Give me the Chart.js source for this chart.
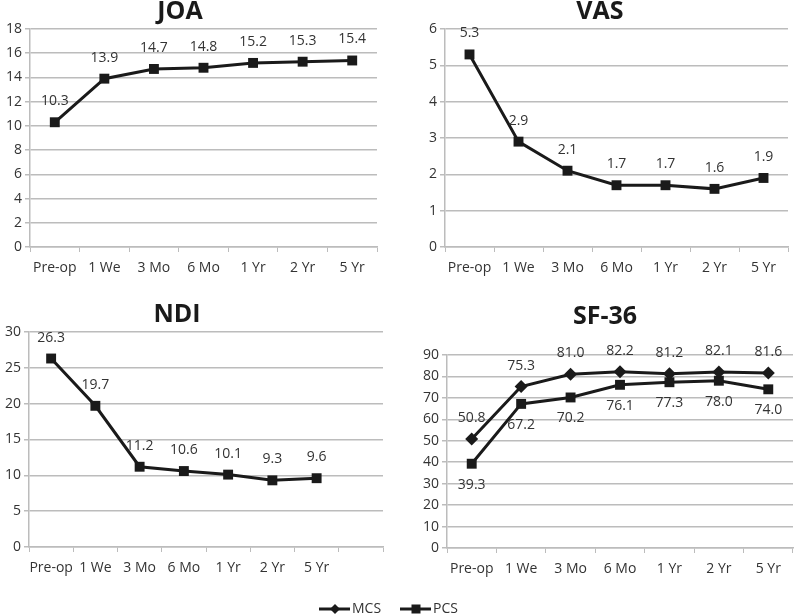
<!DOCTYPE html>
<html>
<head>
<meta charset="utf-8">
<script src="https://cdn.jsdelivr.net/npm/chart.js@4/dist/chart.umd.min.js"></script>
<style>
  html, body { margin: 0; padding: 0; background: #fff; }
  #wrap { position: relative; width: 800px; height: 616px; }
  canvas { position: absolute; left: 0; top: 0; }
</style>
</head>
<body>
<div id="wrap">
  <canvas id="c1" width="800" height="616"></canvas>
  <canvas id="c2" width="800" height="616"></canvas>
  <canvas id="c3" width="800" height="616"></canvas>
  <canvas id="c4" width="800" height="616"></canvas>
</div>
<script>
// ---- data ----
const timepoints = ['Pre-op', '1 We', '3 Mo', '6 Mo', '1 Yr', '2 Yr', '5 Yr'];
const ndiTimepoints = ['Pre-op', '1 We', '3 Mo', '6 Mo', '1 Yr', '2 Yr', '5 Yr', ''];
const joaValues = [10.3, 13.9, 14.7, 14.8, 15.2, 15.3, 15.4];
const vasValues = [5.3, 2.9, 2.1, 1.7, 1.7, 1.6, 1.9];
const ndiValues = [26.3, 19.7, 11.2, 10.6, 10.1, 9.3, 9.6, null];
const mcsValues = [50.8, 75.3, 81.0, 82.2, 81.2, 82.1, 81.6];
const pcsValues = [39.3, 67.2, 70.2, 76.1, 77.3, 78.0, 74.0];
const joaTicks = { min: 0, max: 18, step: 2 };
const vasTicks = { min: 0, max: 6, step: 1 };
const ndiTicks = { min: 0, max: 30, step: 5 };
const sfTicks = { min: 0, max: 90, step: 10 };

const FONT = "'Open Sans', 'Liberation Sans', sans-serif";
const INK = '#1a1a1a';
const TXT = '#333333';
const GRID = '#bcbcbc';

// draw data labels above/below points
const valueLabels = {
  id: 'valueLabels',
  afterDatasetsDraw(chart) {
    const ctx = chart.ctx;
    ctx.save();
    ctx.font = '14px ' + FONT;
    ctx.fillStyle = TXT;
    ctx.textAlign = 'center';
    ctx.textBaseline = 'middle';
    chart.data.datasets.forEach((ds, i) => {
      const meta = chart.getDatasetMeta(i);
      const dir = ds.labelPos === 'below' ? 1 : -1;
      meta.data.forEach((pt, j) => {
        const v = ds.data[j];
        if (v === null || v === undefined) return;
        ctx.fillText(v.toFixed(1), pt.x, pt.y + dir * 21);
      });
    });
    ctx.restore();
  }
};

// panel title
const panelTitle = {
  id: 'panelTitle',
  afterDraw(chart, args, opts) {
    if (!opts || !opts.text) return;
    const ctx = chart.ctx;
    ctx.save();
    ctx.font = 'bold 25px ' + FONT;
    ctx.fillStyle = INK;
    ctx.textAlign = 'center';
    ctx.textBaseline = 'middle';
    ctx.fillText(opts.text, opts.x, opts.y);
    ctx.restore();
  }
};

// bottom legend (SF-36 series)
const bottomLegend = {
  id: 'bottomLegend',
  afterDraw(chart, args, opts) {
    if (!opts || !opts.items) return;
    const ctx = chart.ctx;
    ctx.save();
    ctx.font = '14px ' + FONT;
    ctx.textBaseline = 'middle';
    ctx.textAlign = 'left';
    opts.items.forEach((it, i) => {
      const ds = chart.data.datasets[i];
      const y = opts.y;
      ctx.strokeStyle = INK;
      ctx.lineWidth = 3;
      ctx.beginPath();
      ctx.moveTo(it.x, y);
      ctx.lineTo(it.x + 31, y);
      ctx.stroke();
      ctx.fillStyle = INK;
      const cx = it.x + 16;
      if (ds.pointStyle === 'rectRot') {
        ctx.beginPath();
        ctx.moveTo(cx, y - 5); ctx.lineTo(cx + 5, y); ctx.lineTo(cx, y + 5); ctx.lineTo(cx - 5, y);
        ctx.closePath(); ctx.fill();
      } else {
        ctx.fillRect(cx - 4.5, y - 4.5, 9, 9);
      }
      ctx.fillStyle = TXT;
      ctx.fillText(ds.label, it.x + 33, y);
    });
    ctx.restore();
  }
};

function makeChart(id, cfg) {
  const yW = 30, xH = 32;
  const a = cfg.area;
  return new Chart(document.getElementById(id), {
    type: 'line',
    data: {
      labels: cfg.labels,
      datasets: cfg.datasets.map(d => Object.assign({
        borderColor: INK,
        backgroundColor: INK,
        borderWidth: 3,
        pointStyle: 'rect',
        pointRadius: 7,
        pointBorderWidth: 0,
        pointBackgroundColor: INK,
        tension: 0,
        fill: false,
        spanGaps: false
      }, d))
    },
    options: {
      responsive: false,
      animation: false,
      events: [],
      layout: {
        padding: { left: a.left - yW, top: a.top, right: 800 - a.right, bottom: 616 - a.bottom - xH }
      },
      plugins: {
        legend: { display: false },
        tooltip: { enabled: false },
        panelTitle: cfg.title,
        bottomLegend: cfg.legend || {}
      },
      scales: {
        x: {
          offset: true,
          grid: { display: true, offset: true, drawOnChartArea: false, drawTicks: true, tickLength: 5, color: GRID, lineWidth: 1 },
          border: { display: true, color: GRID, width: 1.5 },
          ticks: { color: TXT, font: { family: FONT, size: 14 }, padding: 8, maxRotation: 0, autoSkip: false },
          afterFit(s) { s.height = xH; }
        },
        y: {
          min: cfg.ticks.min, max: cfg.ticks.max,
          grid: { color: GRID, lineWidth: 1.5, drawTicks: true, tickLength: 5 },
          border: { display: true, color: GRID, width: 1.5 },
          ticks: { stepSize: cfg.ticks.step, color: TXT, font: { family: FONT, size: 14 }, padding: 3 },
          afterFit(s) { s.width = yW; }
        }
      }
    },
    plugins: [valueLabels, panelTitle, bottomLegend]
  });
}

makeChart('c1', {
  labels: timepoints,
  datasets: [{ label: 'JOA', data: joaValues }],
  ticks: joaTicks,
  area: { left: 30, top: 29, right: 377, bottom: 247 },
  title: { text: 'JOA', x: 180, y: 12 }
});

makeChart('c2', {
  labels: timepoints,
  datasets: [{ label: 'VAS', data: vasValues }],
  ticks: vasTicks,
  area: { left: 445, top: 29, right: 788, bottom: 247 },
  title: { text: 'VAS', x: 600, y: 12 }
});

makeChart('c3', {
  labels: ndiTimepoints,
  datasets: [{ label: 'NDI', data: ndiValues }],
  ticks: ndiTicks,
  area: { left: 29, top: 332, right: 383, bottom: 547 },
  title: { text: 'NDI', x: 177, y: 315 }
});

makeChart('c4', {
  labels: timepoints,
  datasets: [
    { label: 'MCS', data: mcsValues, pointStyle: 'rectRot', pointRadius: 6.5, labelPos: 'above' },
    { label: 'PCS', data: pcsValues, pointStyle: 'rect', pointRadius: 7, labelPos: 'below' }
  ],
  ticks: sfTicks,
  area: { left: 447, top: 355, right: 798, bottom: 548 },
  title: { text: 'SF-36', x: 605, y: 317 },
  legend: { y: 609, items: [{ x: 319 }, { x: 400 }] }
});
</script>
</body>
</html>
